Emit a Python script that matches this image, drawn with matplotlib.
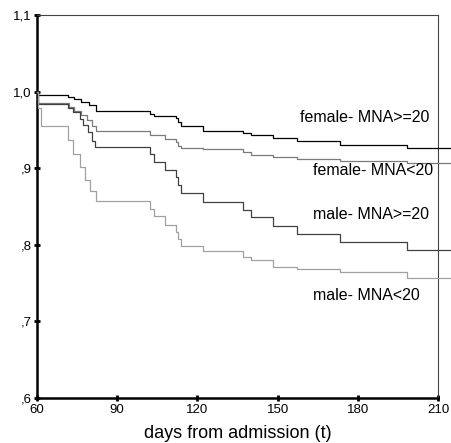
import matplotlib
matplotlib.use("Agg")
import matplotlib.pyplot as plt

plt.rcParams["font.family"] = ["Liberation Sans", "DejaVu Sans"]

# Kaplan-Meier step data (days, survival)
t_f_hi = [60, 60.4, 71.6, 74.0, 76.3, 79.3, 82.0, 102.3, 103.8, 111.9, 112.6,
          113.9, 122.0, 137.1, 140.0, 148.3, 157.2, 173.4, 198.3, 215]
s_f_hi = [1.0, 0.995, 0.993, 0.990, 0.987, 0.982, 0.975, 0.971, 0.968, 0.965, 0.960,
          0.955, 0.949, 0.946, 0.943, 0.939, 0.935, 0.930, 0.926, 0.926]

t_f_lo = [60, 60.4, 72.0, 73.8, 76.3, 78.5, 80.6, 82.0, 102.3, 107.9, 111.9,
          112.6, 113.9, 122.0, 137.1, 140.0, 148.3, 157.2, 173.4, 198.3, 215]
s_f_lo = [1.0, 0.985, 0.980, 0.975, 0.970, 0.963, 0.955, 0.949, 0.943, 0.938, 0.934,
          0.929, 0.927, 0.925, 0.921, 0.917, 0.914, 0.912, 0.909, 0.907, 0.907]

t_m_hi = [60, 60.4, 71.6, 73.5, 76.1, 77.2, 79.1, 80.6, 81.7, 102.3, 103.8, 107.9,
          111.9, 112.6, 113.9, 122.0, 137.1, 140.0, 148.3, 157.2, 173.4, 198.3, 215]
s_m_hi = [1.0, 0.984, 0.979, 0.973, 0.964, 0.957, 0.947, 0.936, 0.928, 0.918, 0.908, 0.898,
          0.889, 0.878, 0.868, 0.856, 0.846, 0.836, 0.825, 0.814, 0.804, 0.793, 0.793]

t_m_lo = [60, 60.4, 61.3, 71.6, 73.5, 76.1, 78.0, 79.8, 82.1, 102.3, 103.8, 107.9,
          111.9, 112.6, 113.9, 122.0, 137.1, 140.0, 148.3, 157.2, 173.4, 198.3, 215]
s_m_lo = [1.0, 0.978, 0.955, 0.937, 0.918, 0.901, 0.885, 0.870, 0.857, 0.847, 0.837, 0.826,
          0.817, 0.808, 0.799, 0.792, 0.784, 0.780, 0.771, 0.768, 0.764, 0.757, 0.757]

labels = ["female- MNA>=20", "female- MNA<20", "male- MNA>=20", "male- MNA<20"]
label_pos = [(158.4, 0.9665), (163.3, 0.8965), (163.3, 0.839), (163.3, 0.7335)]
colors = ["#000000", "#7a7a7a", "#404040", "#a0a0a0"]

xticks = [60, 90, 120, 150, 180, 210]
yticks = [0.6, 0.7, 0.8, 0.9, 1.0, 1.1]
yticklabels = [",6", ",7", ",8", ",9", "1,0", "1,1"]

fig = plt.figure(figsize=(4.52, 4.43), dpi=100)
ax = fig.add_axes([0.082, 0.1016, 0.887, 0.8645])

series = [(t_f_hi, s_f_hi), (t_f_lo, s_f_lo), (t_m_hi, s_m_hi), (t_m_lo, s_m_lo)]
for (t, s), c in zip(series, colors):
    ax.step(t, s, where="post", color=c, lw=0.9, clip_on=False, zorder=3)

for lab, (x, y) in zip(labels, label_pos):
    ax.text(x, y, lab, fontsize=11.5, va="center", ha="left")

ax.set_xlim(60, 210)
ax.set_ylim(0.6, 1.1)
ax.set_xticks(xticks)
ax.set_yticks(yticks)
ax.set_yticklabels(yticklabels)
ax.tick_params(direction="inout", length=4, width=2, labelsize=9.5, pad=2)
ax.set_xlabel("days from admission (t)", fontsize=13, labelpad=7)

ax.spines["left"].set_linewidth(1.8)
ax.spines["bottom"].set_linewidth(1.8)
ax.spines["top"].set_linewidth(0.8)
ax.spines["top"].set_color("#444444")
ax.spines["right"].set_linewidth(0.8)
ax.spines["right"].set_color("#444444")

fig.savefig("out.png", dpi=100)
